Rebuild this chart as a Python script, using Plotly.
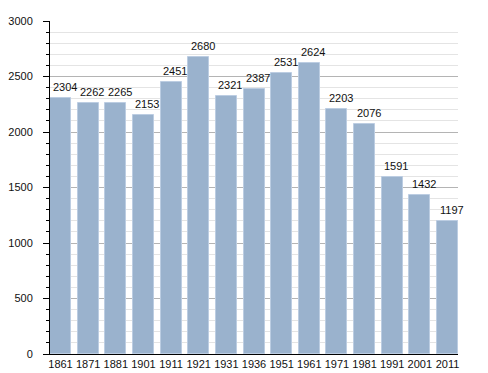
import plotly.graph_objects as go

years = ["1861", "1871", "1881", "1901", "1911", "1921", "1931", "1936",
         "1951", "1961", "1971", "1981", "1991", "2001", "2011"]
population = [2304, 2262, 2265, 2153, 2451, 2680, 2321, 2387,
              2531, 2624, 2203, 2076, 1591, 1432, 1197]
y_ticks = [0, 500, 1000, 1500, 2000, 2500, 3000]

xs = list(range(len(years)))
w = 0.76
font = "Liberation Sans, Arial, sans-serif"

fig = go.Figure()
fig.add_trace(go.Bar(
    x=xs, y=population, width=w,
    marker=dict(color="#9ab2cd", line=dict(color="#bccde2", width=1)),
    hoverinfo="skip",
))

for x, v in zip(xs, population):
    fig.add_annotation(x=x, y=v, text=str(v), showarrow=False,
                       yanchor="bottom", yshift=3, xshift=4,
                       font=dict(family=font, size=11, color="#111"))

fig.update_layout(
    width=488, height=373,
    margin=dict(l=50, r=30, t=21, b=19, autoexpand=False),
    paper_bgcolor="white", plot_bgcolor="white",
    showlegend=False, bargap=0,
    font=dict(family=font, size=11, color="#111"),
    xaxis=dict(
        range=[-w / 2, len(years) - 1 + w / 2],
        tickmode="array", tickvals=xs, ticktext=years,
        showgrid=False, zeroline=False, ticks="",
        showline=True, linecolor="#000", linewidth=1,
        tickfont=dict(size=11, family=font),
        ticklabelstandoff=0, automargin=False,
        fixedrange=True,
    ),
    yaxis=dict(
        range=[0, 3000],
        tickmode="array", tickvals=y_ticks,
        showgrid=True, gridcolor="#b4b4b4", gridwidth=1,
        zeroline=False,
        showline=True, linecolor="#000", linewidth=1,
        ticks="outside", ticklen=6, tickcolor="#000",
        ticklabelstandoff=8, automargin=False,
        tickfont=dict(size=11, family=font),
        minor=dict(dtick=100, showgrid=True, gridcolor="#e4e4e4",
                   ticks="outside", ticklen=3, tickcolor="#000"),
        fixedrange=True,
    ),
)

fig.write_html(
    "out.html",
    config={"displayModeBar": False},
    post_script="document.body.style.margin='0';document.body.style.overflow='hidden';",
)
